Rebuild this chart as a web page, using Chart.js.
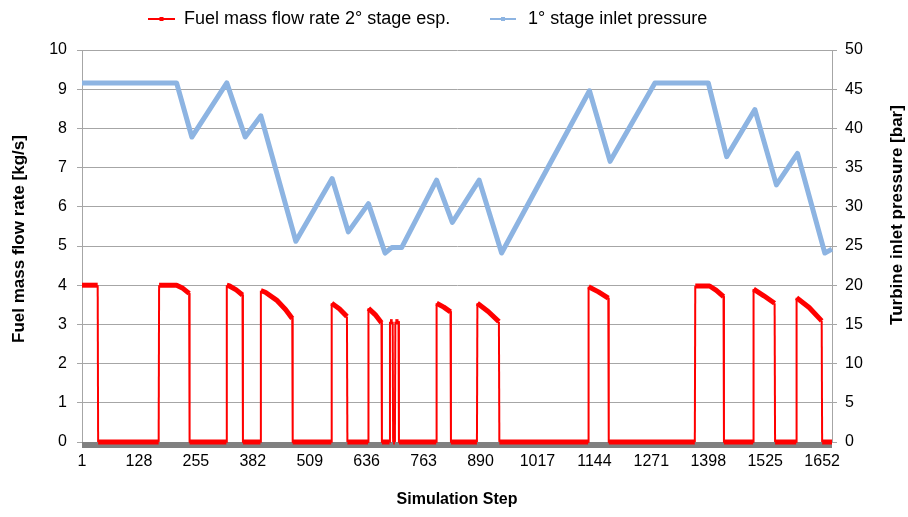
<!DOCTYPE html>
<html><head><meta charset="utf-8">
<script src="https://cdn.jsdelivr.net/npm/chart.js@4.4.1/dist/chart.umd.min.js"></script>
<style>html,body{margin:0;background:#fff}</style>
</head><body>
<canvas id="chart" width="908" height="517"></canvas>
<script>
const redSteps=[1,36,37,172,173,212,226,240,241,323,324,330,345,359,360,399,400,410,435,455,470,471,557,558,575,592,593,639,640,655,669,670,687,688,694,695,699,700,707,708,791,792,808,823,824,882,883,907,931,932,1130,1131,1153,1175,1176,1368,1369,1401,1416,1432,1433,1498,1499,1522,1546,1547,1594,1595,1623,1651,1652,1674];
const fuelFlow=[4,4,0,0,4,4,3.92,3.79,0,0,4,3.98,3.88,3.75,0,0,3.86,3.82,3.62,3.38,3.15,0,0,3.54,3.4,3.2,0,0,3.41,3.25,3.04,0,0,3.07,3.07,0,0,3.07,3.07,0,0,3.54,3.44,3.32,0,0,3.54,3.33,3.07,0,0,3.96,3.83,3.67,0,0,3.98,3.98,3.87,3.71,0,0,3.9,3.73,3.54,0,0,3.68,3.43,3.09,0,0];
const blueSteps=[1,212,246,324,365,400,478,559,595,640,677,692,714,792,827,887,937,1133,1179,1279,1398,1439,1502,1550,1597,1658,1674];
const inletPressure=[45.8,45.8,38.9,45.8,38.9,41.6,25.6,33.6,26.8,30.4,24.1,24.8,24.8,33.4,28,33.4,24.1,44.8,35.8,45.8,45.8,36.4,42.4,32.8,36.8,24.1,24.6];
const xTicks=[1,128,255,382,509,636,763,890,1017,1144,1271,1398,1525,1652];

const FONT="'Liberation Sans', Arial, sans-serif";
const RED='#ff0000', BLUE='#8db4e2', GRID='#a6a6a6';

// legend + axis titles drawn by hand (right title reads bottom-to-top like Excel)
const extras={id:'extras',
 beforeDatasetsDraw(c){const a=c.chartArea,g=c.ctx;g.save();g.fillStyle='#808080';g.fillRect(a.left,a.bottom,a.right-a.left,6);g.restore();},
 afterDraw(c){
  const g=c.ctx;g.save();
  const items=[{x:148,w:27,tx:184},{x:490,w:26,tx:528}];
  c.data.datasets.forEach((d,i)=>{
   const it=items[i],y=19;
   g.strokeStyle=d.borderColor;g.lineWidth=2;
   g.beginPath();g.moveTo(it.x,y);g.lineTo(it.x+it.w,y);g.stroke();
   g.fillStyle=d.borderColor;g.fillRect(it.x+it.w/2-2,y-2,4,4);
   g.fillStyle='#000';g.font='18px '+FONT;g.textBaseline='middle';g.textAlign='left';
   g.fillText(d.label,it.tx,y);
  });
  g.font='bold 17px '+FONT;g.textAlign='center';g.textBaseline='middle';
  [[19,239,'Fuel mass flow rate [kg/s]'],[897,215,'Turbine inlet pressure [bar]']].forEach(([x,y,t])=>{
   g.save();g.translate(x,y);g.rotate(-Math.PI/2);g.fillText(t,0,0);g.restore();
  });
  g.restore();
 }};

new Chart(document.getElementById('chart'),{
 type:'line',
 data:{datasets:[
  {label:'Fuel mass flow rate 2° stage esp.',data:redSteps.map((s,i)=>({x:s,y:fuelFlow[i]})),yAxisID:'y',
   borderColor:RED,backgroundColor:RED,borderWidth:5,pointRadius:0,tension:0,clip:false,borderJoinStyle:'round',
   segment:{borderWidth:ctx=>Math.abs(ctx.p1.x-ctx.p0.x)<1.5?2:5}},
  {label:'1° stage inlet pressure',data:blueSteps.map((s,i)=>({x:s,y:inletPressure[i]})),yAxisID:'y1',
   borderColor:BLUE,backgroundColor:BLUE,borderWidth:5,pointRadius:0,tension:0,clip:false,borderJoinStyle:'round'}
 ]},
 options:{
  responsive:false,animation:false,
  layout:{padding:{top:50,left:0,right:0,bottom:0}},
  plugins:{legend:{display:false},tooltip:{enabled:false}},
  scales:{
   x:{type:'linear',min:1,max:1674,
    afterBuildTicks:s=>{s.ticks=xTicks.map(v=>({value:v}))},
    afterFit:s=>{s.height=75},
    grid:{display:true,drawOnChartArea:false,drawTicks:false},
    border:{display:false},
    ticks:{autoSkip:false,maxRotation:0,padding:10,color:'#000',font:{family:FONT,size:16},callback:v=>String(v)},
    title:{display:true,text:'Simulation Step',color:'#000',font:{family:FONT,size:16,weight:'bold'},padding:{top:0,bottom:8}}},
   y:{position:'left',min:0,max:10,
    afterFit:s=>{s.width=82},
    grid:{color:GRID,tickLength:5},
    border:{display:true,color:GRID},
    ticks:{stepSize:1,padding:10,color:'#000',font:{family:FONT,size:16}}},
   y1:{position:'right',min:0,max:50,
    afterFit:s=>{s.width=76},
    grid:{drawOnChartArea:false,color:GRID,tickLength:5},
    border:{display:true,color:GRID},
    ticks:{stepSize:5,padding:8,color:'#000',font:{family:FONT,size:16}}}
  }
 },
 plugins:[extras]
});
</script>
</body></html>
